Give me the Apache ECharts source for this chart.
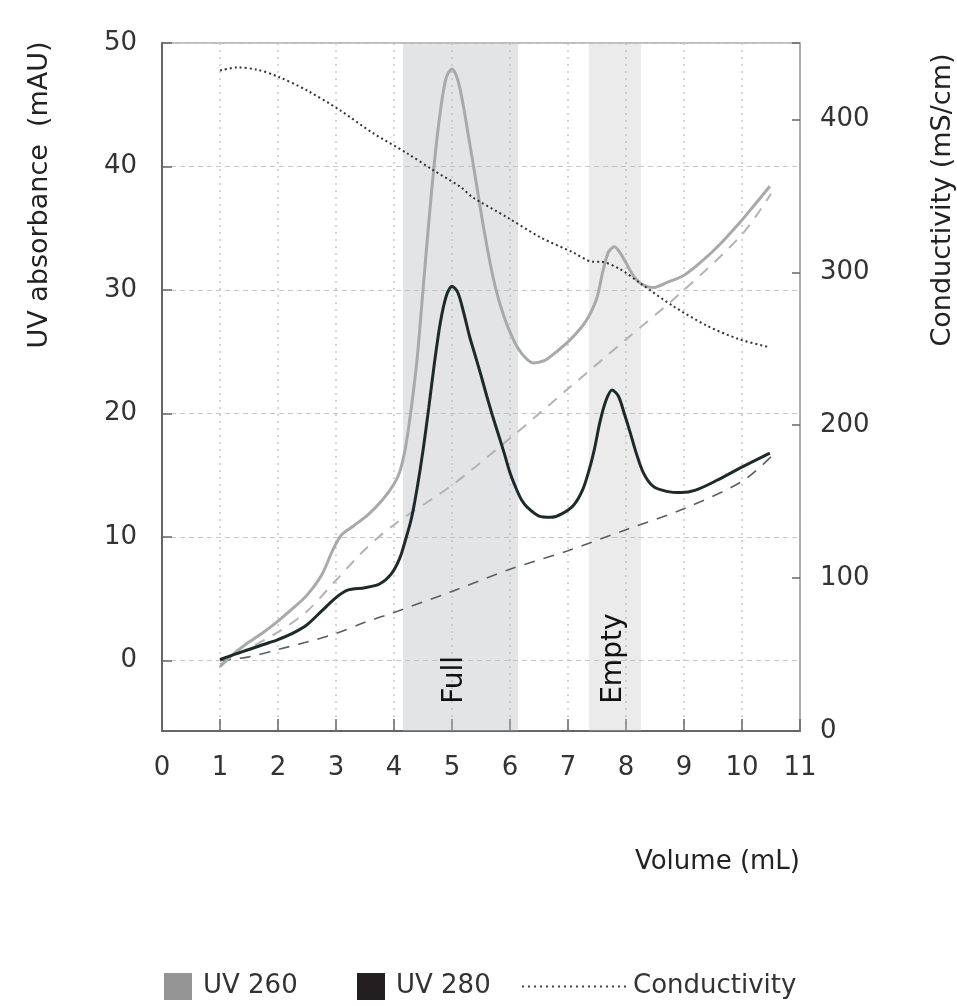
<!DOCTYPE html>
<html>
<head>
<meta charset="utf-8">
<title>UV absorbance / conductivity</title>
<script src="https://cdn.jsdelivr.net/npm/echarts@6/dist/echarts.min.js"></script>
<style>
    html, body { margin: 0; padding: 0; background: #fff; }
    #chart { width: 957px; height: 1006px; }
</style>
</head>
<body>
<div id="chart"></div>
<script>
// UV 260 trace
var uv260Vol = [1.0, 1.25, 1.5, 1.75, 2.0, 2.25, 2.5, 2.75, 2.95, 3.1, 3.3, 3.55, 3.8, 4.0, 4.1, 4.2, 4.3, 4.4, 4.5, 4.6, 4.7, 4.8, 4.9, 5.0,
    5.1, 5.2, 5.3, 5.4, 5.5, 5.6, 5.7, 5.8, 5.9, 6.0, 6.1, 6.25, 6.4, 6.6, 6.8, 7.0, 7.2, 7.35, 7.5, 7.6, 7.7, 7.8, 7.9, 8.0,
    8.15, 8.3, 8.47, 8.7, 9.0, 9.3, 9.6, 9.97, 10.2, 10.48];
var uv260Abs = [-0.5, 0.6, 1.5, 2.3, 3.2, 4.2, 5.3, 6.9, 9.0, 10.2, 10.9, 11.8, 13.0, 14.3, 15.3, 17.3, 20.5, 24.5, 30.0, 35.5, 40.5, 44.5, 47.2, 47.9,
    47.0, 44.8, 42.0, 39.2, 36.3, 33.6, 31.2, 29.3, 27.8, 26.6, 25.6, 24.6, 24.1, 24.3, 25.0, 25.8, 26.8, 27.8, 29.4, 31.5, 33.1, 33.5, 33.0, 32.2,
    31.0, 30.4, 30.2, 30.6, 31.2, 32.3, 33.6, 35.5, 36.8, 38.4];

// UV 280 trace
var uv280Vol = [1.0, 1.25, 1.5, 1.75, 2.0, 2.25, 2.5, 2.75, 3.0, 3.2, 3.5, 3.75, 3.95, 4.1, 4.2, 4.3, 4.4, 4.5, 4.6, 4.7, 4.8, 4.9, 5.0,
    5.1, 5.2, 5.3, 5.4, 5.5, 5.6, 5.7, 5.8, 5.9, 6.0, 6.1, 6.2, 6.3, 6.5, 6.7, 6.9, 7.1, 7.25, 7.35, 7.45, 7.55, 7.65, 7.76, 7.87, 7.97,
    8.07, 8.17, 8.3, 8.47, 8.7, 8.95, 9.2, 9.57, 9.97, 10.48];
var uv280Abs = [0.1, 0.5, 0.9, 1.3, 1.7, 2.2, 2.9, 4.0, 5.1, 5.7, 5.9, 6.2, 7.0, 8.3, 9.8, 11.5, 14.0, 17.0, 20.5, 24.2, 27.4, 29.5, 30.3,
    29.8, 28.2, 26.3, 24.7, 23.1, 21.4, 19.8, 18.3, 16.8, 15.2, 14.0, 13.0, 12.4, 11.7, 11.6, 11.9, 12.6, 13.8, 15.2, 17.0, 19.3, 21.0, 21.9, 21.4, 20.0,
    18.5, 16.9, 15.2, 14.1, 13.7, 13.6, 13.8, 14.6, 15.6, 16.8];

// dashed baselines
var base260Vol = [1.0, 1.5, 2.0, 2.5, 3.0, 3.5, 4.0, 5.0, 6.0, 7.0, 8.0, 9.0, 10.0, 10.5];
var base260Abs = [-0.3, 1.0, 2.3, 4.0, 6.5, 9.0, 11.0, 14.2, 18.0, 22.0, 26.0, 30.0, 34.5, 37.8];
var base280Vol = [1.0, 1.5, 2.0, 2.5, 3.0, 3.5, 4.0, 5.0, 6.0, 7.0, 8.0, 9.0, 10.0, 10.5];
var base280Abs = [0.0, 0.3, 0.9, 1.5, 2.2, 3.1, 3.9, 5.6, 7.4, 8.9, 10.6, 12.3, 14.5, 16.5];

// conductivity (right axis)
var condVol = [1.0, 1.3, 1.65, 2.0, 2.5, 3.07, 3.64, 4.22, 4.67, 5.14, 5.36, 5.95, 6.52, 7.09, 7.43, 7.55, 7.9, 8.24, 8.81, 9.4, 9.97, 10.48];
var condVal = [432, 434, 432.5, 428, 419, 406, 391, 378, 367, 356, 349, 336, 323, 313, 307, 307, 302, 293, 278, 265, 256, 251];

// fraction bands
var bandNames = ['Full', 'Empty'];
var bandFrom = [4.155, 7.36];
var bandTo = [6.14, 8.26];
var bandLabelX = [5.05, 7.78];
var bandLabelY = -3.5;

var FONT = 'DejaVu Sans';

function zip(xs, ys) {
    return xs.map(function (x, i) { return [x, ys[i]]; });
}

// dotted legend icon
var dotPath = 'path://';
for (var i = 0; i < 18; i++) {
    dotPath += 'M' + (i * 6) + ',0h2v2h-2z';
}

var chart = echarts.init(document.getElementById('chart'));

var legendText = { fontSize: 26, color: '#333', lineHeight: 27 };

var option = {
    animation: false,
    backgroundColor: '#fff',
    textStyle: { fontFamily: FONT },
    grid: {
        left: 162,
        right: 157,
        top: 43,
        bottom: 275,
        show: true,
        borderColor: '#a8a8a8',
        borderWidth: 1.5,
        backgroundColor: '#fff'
    },
    legend: [
        {
            left: 159, top: 968, itemWidth: 28, itemHeight: 27,
            textStyle: Object.assign({ padding: [0, 0, 0, 6] }, legendText),
            data: [{ name: 'UV 260', icon: 'rect', itemStyle: { color: '#959595' } }]
        },
        {
            left: 352, top: 968, itemWidth: 28, itemHeight: 27,
            textStyle: Object.assign({ padding: [0, 0, 0, 6] }, legendText),
            data: [{ name: 'UV 280', icon: 'rect', itemStyle: { color: '#231f20' } }]
        },
        {
            left: 517, top: 968, itemWidth: 104, itemHeight: 2,
            textStyle: Object.assign({ padding: [0, 0, 0, 2] }, legendText),
            data: [{ name: 'Conductivity', icon: dotPath, itemStyle: { color: '#444' } }]
        }
    ],
    xAxis: {
        type: 'value',
        min: 0,
        max: 11,
        interval: 1,
        axisLine: { onZero: false, lineStyle: { color: '#666', width: 2 } },
        axisTick: { inside: true, length: 12, lineStyle: { color: '#666', width: 1.5 } },
        axisLabel: { fontSize: 26, color: '#333', margin: 24 },
        splitLine: { show: true, lineStyle: { color: '#c8c8c8', type: [2, 5], width: 1.5 } }
    },
    yAxis: [
        {
            type: 'value',
            min: -5.7,
            max: 50,
            splitNumber: 5,
            minInterval: 10,
            maxInterval: 10,
            axisLine: { show: true, lineStyle: { color: '#666', width: 2 } },
            axisTick: { show: true, inside: true, length: 10, lineStyle: { color: '#666', width: 1.5 } },
            axisLabel: {
                fontSize: 26, color: '#333', margin: 25,
                formatter: function (v) { return v >= 0 && v % 10 === 0 ? String(v) : ''; }
            },
            splitLine: { show: true, lineStyle: { color: '#c8c8c8', type: [5, 4], width: 1.2 } }
        },
        {
            type: 'value',
            position: 'right',
            min: 0,
            max: 450,
            interval: 100,
            axisLine: { show: true, lineStyle: { color: '#a8a8a8', width: 1.5 } },
            axisTick: { show: true, inside: true, length: 8, lineStyle: { color: '#666', width: 1.5 } },
            axisLabel: {
                fontSize: 26, color: '#333', margin: 20,
                formatter: function (v) { return v % 100 === 0 ? String(v) : ''; }
            },
            splitLine: { show: false }
        }
    ],
    series: [
        {
            name: 'bands',
            type: 'line',
            data: [],
            z: 1,
            silent: true,
            markArea: {
                silent: true,
                data: [
                    [{ xAxis: bandFrom[0], itemStyle: { color: 'rgba(180,183,186,0.38)' } }, { xAxis: bandTo[0] }],
                    [{ xAxis: bandFrom[1], itemStyle: { color: 'rgba(190,190,190,0.3)' } }, { xAxis: bandTo[1] }]
                ]
            }
        },
        {
            name: 'UV 260 baseline',
            type: 'line',
            data: zip(base260Vol, base260Abs),
            smooth: 0.3,
            showSymbol: false,
            z: 3,
            lineStyle: { color: '#b3b3b3', width: 2, type: [11, 9] }
        },
        {
            name: 'UV 280 baseline',
            type: 'line',
            data: zip(base280Vol, base280Abs),
            smooth: 0.3,
            showSymbol: false,
            z: 3,
            lineStyle: { color: '#5a5f5f', width: 1.6, type: [11, 9] }
        },
        {
            name: 'UV 260',
            type: 'line',
            data: zip(uv260Vol, uv260Abs),
            smooth: 0.3,
            showSymbol: false,
            z: 4,
            lineStyle: { color: '#a8aaaa', width: 3 }
        },
        {
            name: 'UV 280',
            type: 'line',
            data: zip(uv280Vol, uv280Abs),
            smooth: 0.3,
            showSymbol: false,
            z: 5,
            lineStyle: { color: '#1e2a2a', width: 3 }
        },
        {
            name: 'Conductivity',
            type: 'line',
            yAxisIndex: 1,
            data: zip(condVol, condVal),
            smooth: 0.3,
            showSymbol: false,
            z: 6,
            lineStyle: { color: '#333', width: 2, type: [2, 3] }
        }
    ]
};

chart.setOption(option);

// axis titles and band labels, placed through the chart's own scales
var titleFont = '27px "DejaVu Sans"';
var graphics = [
    {
        type: 'text', x: 40, y: 195, rotation: Math.PI / 2,
        style: { text: 'UV absorbance  (mAU)', font: titleFont, fill: '#222', align: 'center', verticalAlign: 'middle' }
    },
    {
        type: 'text', x: 943, y: 200, rotation: Math.PI / 2,
        style: { text: 'Conductivity (mS/cm)', font: titleFont, fill: '#222', align: 'center', verticalAlign: 'middle' }
    },
    {
        type: 'text', x: 800, y: 862,
        style: { text: 'Volume (mL)', font: '26px "DejaVu Sans"', fill: '#222', align: 'right', verticalAlign: 'middle' }
    }
];
bandNames.forEach(function (name, i) {
    var p = chart.convertToPixel({ xAxisIndex: 0, yAxisIndex: 0 }, [bandLabelX[i], bandLabelY]);
    graphics.push({
        type: 'text', x: p[0], y: p[1], rotation: Math.PI / 2, z: 10,
        style: { text: name, font: '28px "DejaVu Sans"', fill: '#111', align: 'left', verticalAlign: 'middle' }
    });
});
chart.setOption({ graphic: graphics });
</script>
</body>
</html>
